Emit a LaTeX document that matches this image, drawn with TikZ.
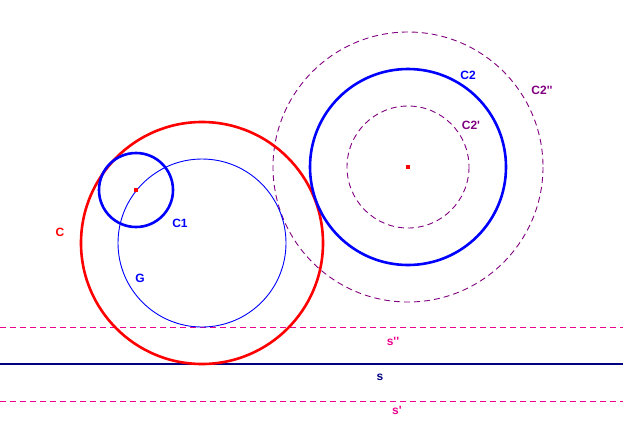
\documentclass[tikz,border=0pt]{standalone}
\usepackage{fontspec}
\setsansfont{Liberation Sans}
\usepackage{tikz}
\usetikzlibrary{calc, positioning}
\definecolor{navy}{RGB}{0,0,128}
\definecolor{violet2}{RGB}{128,0,128}
\newcommand*{\pr}{\textquotesingle}

\tikzset{
 lbl/.style={font=\sffamily\bfseries\fontsize{12}{14}\selectfont, inner sep=0pt},
 thick line/.style={line width=2.6pt},
 aux/.style={line width=0.9pt, dash pattern=on 6pt off 4pt},
 centre/.style={fill=red, minimum size=3.5pt, inner sep=0pt, draw=none, rectangle}
}

\begin{document}
\begin{tikzpicture}[x=1pt, y=-1pt]
 \useasboundingbox (0,0) rectangle (623,440);
 \coordinate (o) at (202,243);
 \coordinate (o1) at (136,190);
 \coordinate (o2) at (408,167);
 % the lines
 \draw[aux, magenta] (0,327) coordinate (s2a) -- (623,327) coordinate (s2b);
 \draw[aux, magenta] (0,401) coordinate (s1a) -- (623,401) coordinate (s1b);
 \draw[thick line, navy] (0,364) coordinate (sa) -- (623,364) coordinate (sb);
 % circles
 \draw[aux, violet2] (o2) circle (135);
 \draw[aux, violet2] (o2) circle (61);
 \draw[blue, line width=0.9pt] (o) circle (84);
 \draw[thick line, red] (o) circle (121);
 \draw[thick line, blue] (o1) circle (37);
 \draw[thick line, blue] (o2) circle (98);
 \node[centre] (p1) at (o1) {};
 \node[centre] (p2) at (o2) {};
 % labels
 \node[lbl, red] (lc) at (60,232) {C};
 \node[lbl, blue] (lc1) at (180,223) {C1};
 \node[lbl, blue] (lg) at (140,278) {G};
 \node[lbl, blue] (lc2) at (468,75) {C2};
 \node[lbl, violet2] (lc2b) at (542,90) {C2\pr\pr};
 \node[lbl, violet2] (lc2a) at (471,125) {C2\pr};
 \node[lbl, magenta] (ls2) at (393,341) {s\pr\pr};
 \node[lbl, navy] (ls) at (380,377) {s};
 \node[lbl, magenta] (ls1) at (397,410) {s\pr};
\end{tikzpicture}
\end{document}
